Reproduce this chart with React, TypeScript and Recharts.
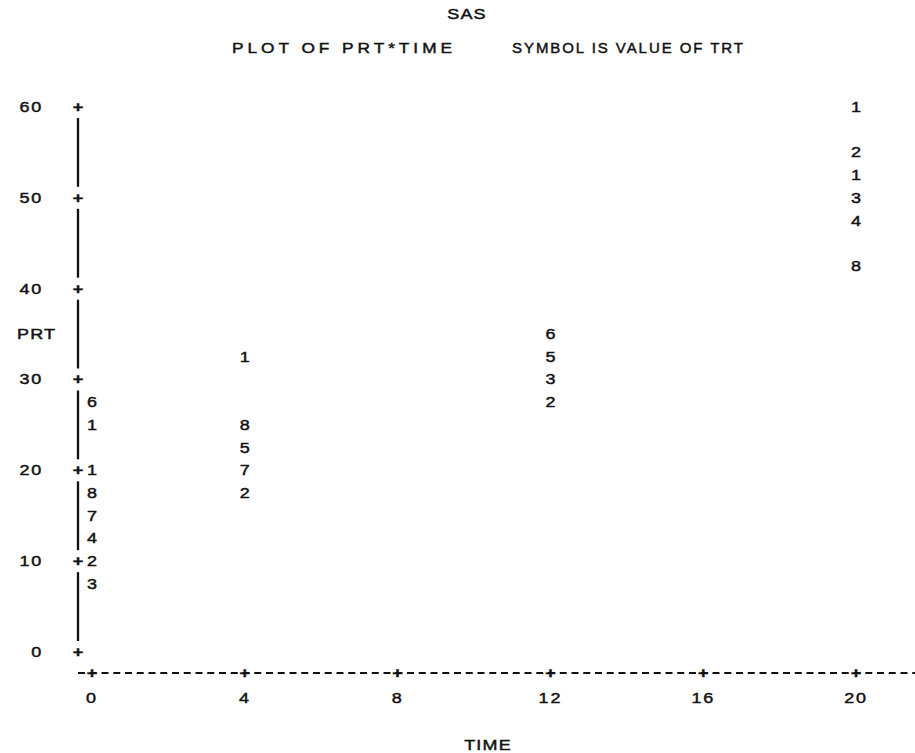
import React from "react";
import { ScatterChart, Scatter, XAxis, YAxis, Customized } from "recharts";

// ---- data ----
const time0Trt = [6, 1, 1, 8, 7, 4, 2, 3];
const time0Prt = [27.5, 25, 20, 17.5, 15, 12.5, 10, 7.5];
const time4Trt = [1, 8, 5, 7, 2];
const time4Prt = [32.5, 25, 22.5, 20, 17.5];
const time12Trt = [6, 5, 3, 2];
const time12Prt = [35, 32.5, 30, 27.5];
const time20Trt = [1, 2, 1, 3, 4, 8];
const time20Prt = [60, 55, 52.5, 50, 47.5, 42.5];

const xTicks = [0, 4, 8, 12, 16, 20];
const yTicks = [0, 10, 20, 30, 40, 50, 60];

const TITLE = "SAS";
const SUB_LEFT = "PLOT OF PRT*TIME";
const SUB_RIGHT = "SYMBOL IS VALUE OF TRT";
const X_LABEL = "TIME";
const Y_LABEL = "PRT";

const build = (t: number, trt: number[], prt: number[]) =>
  trt.map((s, i) => ({ time: t, prt: prt[i], trt: s }));

const data = [
  ...build(0, time0Trt, time0Prt),
  ...build(4, time4Trt, time4Prt),
  ...build(12, time12Trt, time12Prt),
  ...build(20, time20Trt, time20Prt),
];

// ---- layout ----
const W = 915;
const H = 753;
const TOP = 107;
const Y_AXIS_W = 78;
const X_AXIS_H = 80;
const Y_PAD_BOTTOM = 21;
const PLOT_BOTTOM = H - X_AXIS_H;
const Y_STEP_PX = ((PLOT_BOTTOM - Y_PAD_BOTTOM - TOP) * 10) / 60;

const FONT = "'Liberation Sans', Arial, sans-serif";
const INK = "#111";
const FS = 15;
const SX = 1.2;

const Txt = ({ x, y, anchor = "middle", children, ls = 0, len, bold = false, sx = SX }: any) => (
  <text
    transform={`translate(${x},${y}) scale(${sx},1)`}
    x={0}
    y={0}
    textAnchor={anchor}
    dominantBaseline="central"
    fontFamily={FONT}
    fontSize={FS}
    fontWeight={bold ? "bold" : "normal"}
    letterSpacing={ls}
    fill={INK}
    stroke={INK}
    strokeWidth={0.45}
    textLength={len ? len / sx : undefined}
    lengthAdjust={len ? "spacing" : undefined}
  >
    {children}
  </text>
);

const SymbolShape = (props: any) => {
  const { cx, cy, payload } = props;
  return <Txt x={cx} y={cy}>{payload.trt}</Txt>;
};

const XTick = (props: any) => {
  const { x, y, payload } = props;
  return (
    <g>
      <Txt x={x} y={y} bold>+</Txt>
      <Txt x={x} y={y + 25} ls={1.5}>{payload.value}</Txt>
    </g>
  );
};

const YTick = (props: any) => {
  const { x, y, payload } = props;
  return (
    <g>
      <Txt x={x} y={y} bold>+</Txt>
      <Txt x={x - 35} y={y} anchor="end" ls={1.5}>{payload.value}</Txt>
      {payload.value > 0 && (
        <line x1={x} x2={x} y1={y + 11} y2={y + Y_STEP_PX - 11} stroke={INK} strokeWidth={2.3} />
      )}
    </g>
  );
};

const Titles = () => (
  <g>
    <Txt x={467} y={14} ls={1}>{TITLE}</Txt>
    <Txt x={232} y={47} anchor="start" len={220} sx={1.15}>{SUB_LEFT}</Txt>
    <Txt x={512} y={47} anchor="start" len={231} sx={1.0}>{SUB_RIGHT}</Txt>
    <Txt x={488} y={745} ls={1}>{X_LABEL}</Txt>
    <Txt x={17} y={334} anchor="start" ls={1}>{Y_LABEL}</Txt>
  </g>
);

export default function App() {
  return (
    <div style={{ position: "absolute", left: 0, top: 0, width: W, height: H, background: "#fff" }}>
      <ScatterChart width={W} height={H} margin={{ top: TOP, right: 0, bottom: 0, left: 0 }}>
        <XAxis
          type="number"
          dataKey="time"
          domain={[0, 20]}
          ticks={xTicks}
          height={X_AXIS_H}
          padding={{ left: 14, right: 59 }}
          tickSize={0}
          tickMargin={0}
          tickLine={false}
          axisLine={{ stroke: INK, strokeWidth: 2, strokeDasharray: "7 4.75" }}
          tick={<XTick />}
          interval={0}
        />
        <YAxis
          type="number"
          dataKey="prt"
          domain={[0, 60]}
          ticks={yTicks}
          width={Y_AXIS_W}
          padding={{ top: 0, bottom: Y_PAD_BOTTOM }}
          tickSize={0}
          tickMargin={0}
          tickLine={false}
          axisLine={false}
          tick={<YTick />}
          interval={0}
        />
        <Scatter data={data} shape={<SymbolShape />} isAnimationActive={false} />
        <Customized component={<Titles />} />
      </ScatterChart>
    </div>
  );
}
